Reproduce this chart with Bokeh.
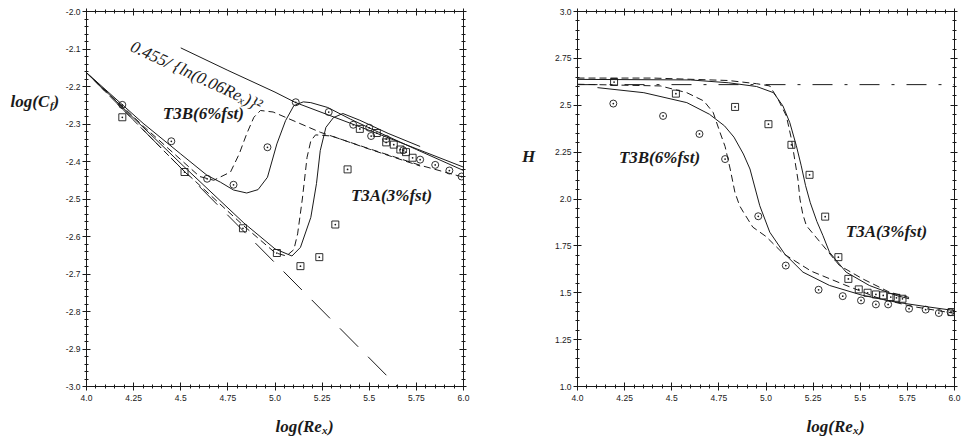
import numpy as np
from bokeh.plotting import figure
from bokeh.models import Range1d, FixedTicker, LinearAxis, Label, CustomJSTickFormatter
from bokeh.layouts import row, column
from bokeh.core.properties import value
from bokeh.embed import file_html
from bokeh.resources import INLINE

# ---------------- tick values / labels ----------------
X_TICKS = [4.0, 4.25, 4.5, 4.75, 5.0, 5.25, 5.5, 5.75, 6.0]
X_TICK_LABELS = ["4.0", "4.25", "4.5", "4.75", "5.0", "5.25", "5.5", "5.75", "6.0"]
CF_TICKS = [-3.0, -2.9, -2.8, -2.7, -2.6, -2.5, -2.4, -2.3, -2.2, -2.1, -2.0]
CF_TICK_LABELS = ["-3.0", "-2.9", "-2.8", "-2.7", "-2.6", "-2.5", "-2.4", "-2.3", "-2.2", "-2.1", "-2.0"]
H_TICKS = [1.0, 1.25, 1.5, 1.75, 2.0, 2.25, 2.5, 2.75, 3.0]
H_TICK_LABELS = ["1.0", "1.25", "1.5", "1.75", "2.0", "2.25", "2.5", "2.75", "3.0"]

# ---------------- left panel: log(Cf) ----------------
CF_TURB_X = [4.5, 4.75, 5.0, 5.11, 5.5, 6.0]
CF_TURB_Y = [-2.097, -2.157, -2.215, -2.243, -2.317, -2.415]
CF_LAM_X = [4.0, 5.65]
CF_LAM_Y = [-2.163, -3.0]

CF_T3B_SOLID_X = [4.0, 4.3, 4.5, 4.64, 4.71, 4.78, 4.85, 4.91, 4.96, 5.01, 5.056, 5.10, 5.15, 5.19, 5.28, 5.4, 5.55, 5.75, 6.0]
CF_T3B_SOLID_Y = [-2.163, -2.298, -2.38, -2.437, -2.455, -2.476, -2.484, -2.475, -2.442, -2.353, -2.291, -2.251, -2.241, -2.243, -2.256, -2.287, -2.322, -2.368, -2.424]
CF_T3B_DASH_X = [4.0, 4.3, 4.6, 4.675, 4.764, 4.81, 4.85, 4.888, 4.923, 4.99, 5.24, 5.5, 5.77, 6.0]
CF_T3B_DASH_Y = [-2.163, -2.305, -2.44, -2.45, -2.428, -2.38, -2.326, -2.282, -2.264, -2.268, -2.322, -2.366, -2.41, -2.442]
CF_T3A_SOLID_X = [4.0, 4.516, 4.835, 5.0, 5.09, 5.135, 5.19, 5.22, 5.24, 5.27, 5.31, 5.36, 5.45, 5.6, 5.77]
CF_T3A_SOLID_Y = [-2.163, -2.413, -2.564, -2.633, -2.652, -2.629, -2.549, -2.459, -2.371, -2.309, -2.283, -2.272, -2.29, -2.325, -2.36]
CF_T3A_DASH_X = [4.0, 4.5, 4.835, 5.0, 5.06, 5.1, 5.12, 5.145, 5.17, 5.19, 5.215, 5.3, 5.5, 5.77]
CF_T3A_DASH_Y = [-2.163, -2.417, -2.572, -2.643, -2.652, -2.635, -2.593, -2.50, -2.389, -2.345, -2.329, -2.332, -2.367, -2.412]

CF_T3B_PTS_X = [4.19, 4.45, 4.64, 4.78, 4.96, 5.11, 5.285, 5.415, 5.50, 5.51, 5.59, 5.68, 5.77, 5.85, 5.925, 5.99]
CF_T3B_PTS_Y = [-2.249, -2.346, -2.446, -2.462, -2.362, -2.242, -2.268, -2.302, -2.310, -2.332, -2.340, -2.37, -2.395, -2.409, -2.424, -2.44]
CF_T3A_PTS_X = [4.19, 4.52, 4.83, 5.01, 5.135, 5.235, 5.32, 5.385, 5.45, 5.54, 5.59, 5.63, 5.665, 5.695, 5.73]
CF_T3A_PTS_Y = [-2.282, -2.428, -2.578, -2.644, -2.679, -2.655, -2.568, -2.421, -2.313, -2.324, -2.349, -2.355, -2.368, -2.375, -2.39]

# ---------------- right panel: H ----------------
H_LAM_X = [4.0, 6.0]
H_LAM_Y = [2.61, 2.61]

H_T3A_SOLID_X = [4.0, 4.6, 4.8, 4.95, 5.04, 5.09, 5.126, 5.161, 5.187, 5.21, 5.235, 5.27, 5.302, 5.337, 5.425, 5.548, 5.689, 5.759]
H_T3A_SOLID_Y = [2.638, 2.635, 2.62, 2.60, 2.567, 2.496, 2.408, 2.284, 2.177, 2.071, 1.98, 1.88, 1.805, 1.716, 1.61, 1.539, 1.486, 1.468]
H_T3A_DASH_X = [4.0, 4.4, 4.8, 4.95, 5.02, 5.064, 5.108, 5.135, 5.152, 5.17, 5.18, 5.195, 5.214, 5.302, 5.39, 5.513, 5.653, 5.759]
H_T3A_DASH_Y = [2.645, 2.645, 2.632, 2.615, 2.603, 2.532, 2.443, 2.319, 2.213, 2.10, 2.0, 1.92, 1.858, 1.752, 1.645, 1.574, 1.504, 1.475]
H_T3B_SOLID_X = [4.106, 4.352, 4.58, 4.70, 4.78, 4.83, 4.88, 4.915, 4.967, 5.02, 5.099, 5.196, 5.337, 5.513, 5.689, 5.864, 6.0]
H_T3B_SOLID_Y = [2.594, 2.567, 2.514, 2.452, 2.39, 2.33, 2.24, 2.16, 1.964, 1.823, 1.707, 1.61, 1.539, 1.486, 1.45, 1.424, 1.405]
H_T3B_DASH_X = [4.0, 4.44, 4.58, 4.67, 4.72, 4.756, 4.783, 4.81, 4.835, 4.86, 4.88, 4.93, 5.0, 5.09, 5.24, 5.41, 5.6, 5.77, 6.0]
H_T3B_DASH_Y = [2.612, 2.603, 2.567, 2.523, 2.461, 2.355, 2.28, 2.16, 2.036, 1.964, 1.93, 1.85, 1.80, 1.71, 1.615, 1.545, 1.47, 1.428, 1.39]

H_T3B_PTS_X = [4.19, 4.454, 4.647, 4.783, 4.959, 5.105, 5.279, 5.407, 5.504, 5.583, 5.648, 5.759, 5.847, 5.917, 5.979]
H_T3B_PTS_Y = [2.509, 2.443, 2.347, 2.213, 1.908, 1.645, 1.516, 1.482, 1.459, 1.438, 1.438, 1.415, 1.41, 1.392, 1.397]
H_T3A_PTS_X = [4.194, 4.522, 4.836, 5.013, 5.135, 5.231, 5.314, 5.384, 5.437, 5.492, 5.539, 5.583, 5.622, 5.662, 5.692, 5.724, 5.984]
H_T3A_PTS_Y = [2.624, 2.562, 2.491, 2.399, 2.289, 2.129, 1.906, 1.69, 1.574, 1.518, 1.5, 1.491, 1.486, 1.477, 1.473, 1.468, 1.397]

INK = "#1a1a1a"
SERIF = "Liberation Serif"
SANS = "Liberation Sans"
DASH = "7 4"
LONG_DASH = "26 14"
DASH_DOT = "20 12 3 12"

TOP_H = 410      # height of the two chart panels
STRIP_H = 30     # height of the strip holding the x-axis titles


def minor(lo, hi, step):
    return [float(v) for v in np.round(np.arange(lo, hi + step / 2, step), 4)]


def make_fig(width, bl, br, yr, yticks, ylabels, yminor):
    p = figure(width=width, height=TOP_H, x_range=Range1d(4.0, 6.0), y_range=Range1d(*yr),
               output_backend="svg", toolbar_location=None,
               min_border_left=bl, min_border_right=br, min_border_top=11, min_border_bottom=24)
    p.grid.visible = False
    p.outline_line_color = INK
    p.outline_line_width = 1
    p.background_fill_color = "white"
    p.border_fill_color = "white"
    xt = FixedTicker(ticks=X_TICKS, minor_ticks=minor(4.0, 6.0, 0.05))
    yt = FixedTicker(ticks=yticks, minor_ticks=yminor)
    p.xaxis.ticker = xt
    p.yaxis.ticker = yt
    p.xaxis.major_label_overrides = dict(zip(X_TICKS, X_TICK_LABELS))
    p.yaxis.major_label_overrides = dict(zip(yticks, ylabels))
    for ax in (p.xaxis[0], p.yaxis[0]):
        ax.axis_line_color = INK
        ax.major_tick_line_color = INK
        ax.minor_tick_line_color = INK
        ax.major_tick_in = 4
        ax.major_tick_out = 4
        ax.minor_tick_in = 2
        ax.minor_tick_out = 2
        ax.major_label_text_font = SANS
        ax.major_label_text_font_size = "8.5px"
        ax.major_label_text_color = INK
    p.yaxis.major_label_standoff = 2
    p.xaxis.major_label_standoff = 4
    blank = CustomJSTickFormatter(code="return ''")
    for loc, tk in (("above", xt), ("right", yt)):
        ax = LinearAxis(ticker=tk, formatter=blank, major_label_text_font_size="0px",
                        major_label_standoff=0, axis_line_color=INK,
                        major_tick_line_color=INK, minor_tick_line_color=INK,
                        major_tick_in=4, major_tick_out=3, minor_tick_in=2, minor_tick_out=2)
        p.add_layout(ax, loc)
    return p


def text_strip(width, height):
    s = figure(width=width, height=height, x_range=Range1d(0, width), y_range=Range1d(height, 0),
               output_backend="svg", toolbar_location=None, min_border=0,
               x_axis_location=None, y_axis_location=None)
    s.grid.visible = False
    s.outline_line_color = None
    s.background_fill_color = "white"
    s.border_fill_color = "white"
    return s


def stext(s, x, y, t, size="17px", align="left", baseline="alphabetic"):
    s.text(x=[x], y=[y], text=[t], text_font=value(SERIF), text_font_style="bold italic",
           text_font_size=size, text_align=align, text_baseline=baseline, text_color=INK)


def line(p, x, y, dash="solid"):
    p.line(x, y, line_color=INK, line_width=1, line_dash=dash)


def pts(p, x, y, marker):
    p.scatter(x, y, marker=marker, size=7, line_color=INK, line_width=0.9, fill_color=None)


def lab(p, x, y, text, size="17px", style="bold italic", align="left", baseline="alphabetic", angle=0.0):
    p.add_layout(Label(x=x, y=y, text=text, text_font=SERIF, text_font_style=style,
                       text_font_size=size, text_align=align, text_baseline=baseline,
                       text_color=INK, angle=angle))


# ---------------- left ----------------
left = make_fig(410, 26, 7, (-3.0, -2.0), CF_TICKS, CF_TICK_LABELS, minor(-3.0, -2.0, 0.02))
line(left, CF_TURB_X, CF_TURB_Y)
line(left, CF_LAM_X, CF_LAM_Y, LONG_DASH)
line(left, CF_T3B_SOLID_X, CF_T3B_SOLID_Y)
line(left, CF_T3B_DASH_X, CF_T3B_DASH_Y, DASH)
line(left, CF_T3A_SOLID_X, CF_T3A_SOLID_Y)
line(left, CF_T3A_DASH_X, CF_T3A_DASH_Y, DASH)
pts(left, CF_T3B_PTS_X, CF_T3B_PTS_Y, "circle_dot")
pts(left, CF_T3A_PTS_X, CF_T3A_PTS_Y, "square_dot")

# rotated correlation label, written in three pieces so that "x" can be a subscript
ANG = -0.436
lab(left, 4.2387, -2.0907, "0.455/ {ln(0.06Re", size="17px", style="italic", angle=ANG)
lab(left, 4.8117, -2.2339, "x", size="11px", style="italic", angle=ANG)
lab(left, 4.8420, -2.2323, ")}²", size="17px", style="italic", angle=ANG)

lab(left, 4.62, -2.272, "T3B(6%fst)", align="center", baseline="middle")
lab(left, 5.618, -2.491, "T3A(3%fst)", align="center", baseline="middle")

# ---------------- right ----------------
right = make_fig(424, 37, 10, (1.0, 3.0), H_TICKS, H_TICK_LABELS, minor(1.0, 3.0, 0.05))
line(right, H_LAM_X, H_LAM_Y, DASH_DOT)
line(right, H_T3A_SOLID_X, H_T3A_SOLID_Y)
line(right, H_T3A_DASH_X, H_T3A_DASH_Y, DASH)
line(right, H_T3B_SOLID_X, H_T3B_SOLID_Y)
line(right, H_T3B_DASH_X, H_T3B_DASH_Y, DASH)
pts(right, H_T3B_PTS_X, H_T3B_PTS_Y, "circle_dot")
pts(right, H_T3A_PTS_X, H_T3A_PTS_Y, "square_dot")

lab(right, 4.435, 2.221, "T3B(6%fst)", align="center", baseline="middle")
lab(right, 5.639, 1.827, "T3A(3%fst)", align="center", baseline="middle")

# ---------------- axis titles (kept in side strips) ----------------
ylab_left = text_strip(60, TOP_H)
stext(ylab_left, 10, 98, "log(C")
stext(ylab_left, 49.5, 102, "f", size="11px")
stext(ylab_left, 53, 98, ")")

ylab_right = text_strip(70, TOP_H)
stext(ylab_right, 58, 158, "H", align="center", baseline="middle")

xlab = text_strip(964, STRIP_H)
stext(xlab, 275, 16, "log(Re")
stext(xlab, 321.5, 19, "x", size="11px")
stext(xlab, 327.5, 16, ")")
stext(xlab, 806, 16, "log(Re")
stext(xlab, 852.5, 19, "x", size="11px")
stext(xlab, 858.5, 16, ")")

layout = column(row(ylab_left, left, ylab_right, right), xlab)
open("out.html", "w").write(file_html(layout, INLINE))
